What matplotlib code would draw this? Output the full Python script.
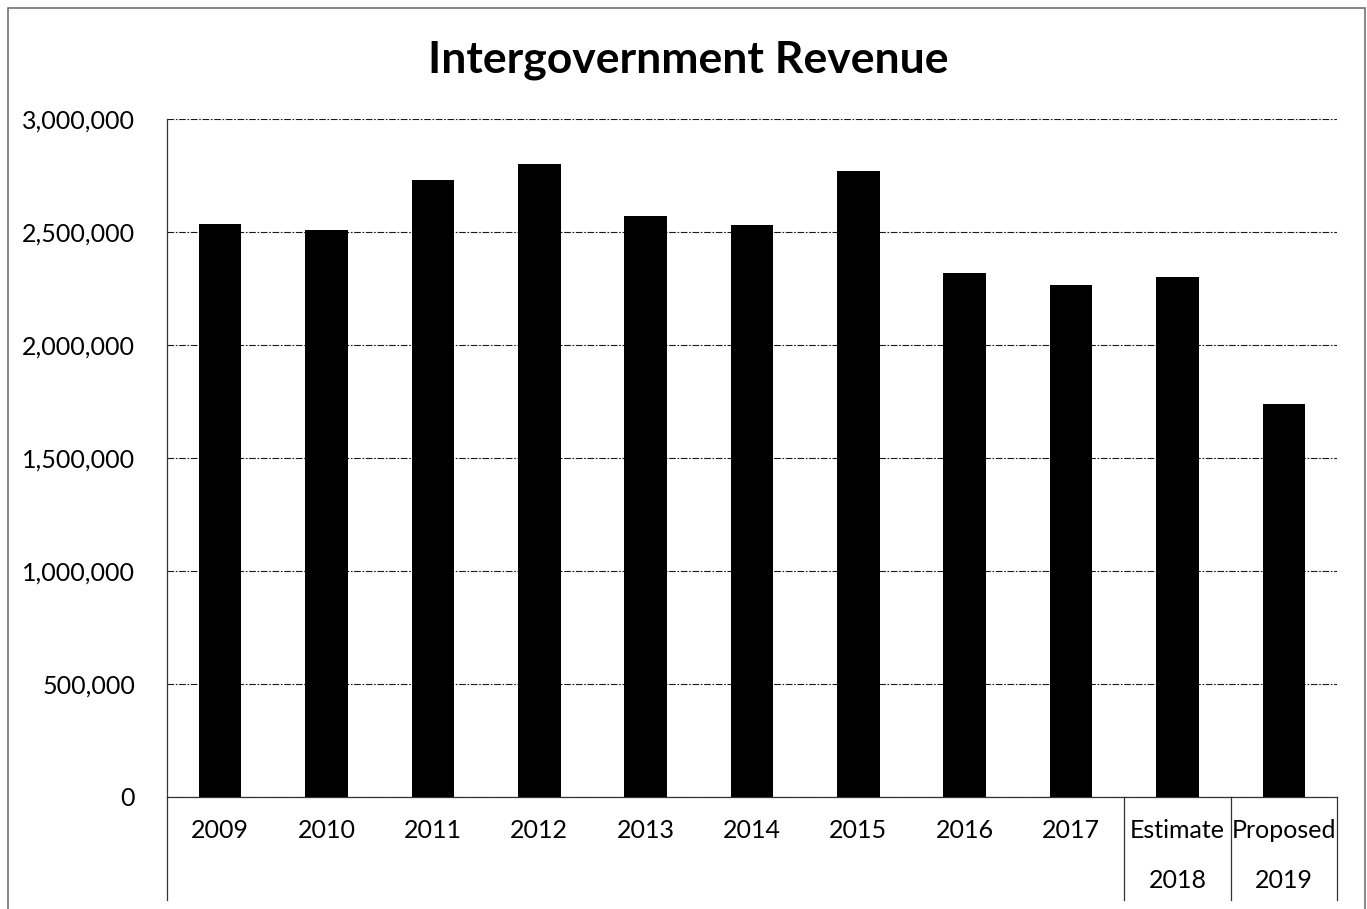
import matplotlib
matplotlib.use("Agg")
import matplotlib.pyplot as plt
from matplotlib.ticker import FuncFormatter, MultipleLocator
from matplotlib.transforms import blended_transform_factory
from matplotlib.patches import Rectangle

plt.rcParams['font.family'] = ['Lato', 'DejaVu Sans']

# Revenue by year
years = ["2009", "2010", "2011", "2012", "2013", "2014", "2015",
         "2016", "2017", "2018", "2019"]
revenue = [2535000, 2509000, 2730000, 2800000, 2571000, 2532000,
           2770000, 2317000, 2264000, 2302000, 1738000]
# Two-level category axis: upper row and lower row
upper_labels = ["2009", "2010", "2011", "2012", "2013", "2014", "2015",
                "2016", "2017", "Estimate", "Proposed"]
lower_labels = ["", "", "", "", "", "", "", "", "", "2018", "2019"]
group_breaks = [8.5, 9.5, 10.5]

title = "Intergovernment Revenue"

W, H = 1367, 909
fig = plt.figure(figsize=(W / 100, H / 100), dpi=100)

# plot area in pixel bounds
left, right, top, bottom = 167, 1337, 119, 797
ax = fig.add_axes([left / W, 1 - bottom / H, (right - left) / W, (bottom - top) / H])

x = list(range(len(years)))
ax.bar(x, revenue, width=0.4, color="black", zorder=3)

ax.set_xlim(-0.5, len(years) - 0.5)
ax.set_ylim(0, 3000000)
ax.yaxis.set_major_locator(MultipleLocator(500000))
ax.yaxis.set_major_formatter(FuncFormatter(lambda v, p: f"{int(v):,}"))
ax.tick_params(axis="y", length=0, pad=23, labelsize=18)
ax.set_xticks([])

ax.grid(axis="y", color="#1a1a1a", linestyle=(0, (6, 1.5, 1.5, 1.5)),
        linewidth=0.8, zorder=0)
for s in ("top", "right"):
    ax.spines[s].set_visible(False)
ax.spines["left"].set_color("#333333")
ax.spines["left"].set_linewidth(0.9)
ax.spines["bottom"].set_color("#333333")
ax.spines["bottom"].set_linewidth(0.9)

# category axis extends below the plot area
trans = blended_transform_factory(ax.transData, ax.transAxes)
ext = -(900 - bottom) / (bottom - top)
ax.plot([-0.5, -0.5], [0, ext], transform=trans, color="#333333",
        linewidth=0.9, clip_on=False)
for b in group_breaks:
    ax.plot([b, b], [0, ext], transform=trans, color="#333333",
            linewidth=0.9, clip_on=False)

row1 = -(831 - bottom) / (bottom - top)
row2 = -(881 - bottom) / (bottom - top)
for xi, u, l in zip(x, upper_labels, lower_labels):
    ax.text(xi, row1, u, transform=trans, ha="center", va="center", fontsize=18)
    if l:
        ax.text(xi, row2, l, transform=trans, ha="center", va="center", fontsize=18)

fig.text(688 / W, 1 - 60 / H, title, ha="center", va="center",
         fontsize=32, fontweight="bold")

# chart border
fig.patches.append(Rectangle((8 / W, -0.05), (1365 - 8) / W, 1.05 - 8 / H,
                             transform=fig.transFigure, fill=False,
                             edgecolor="#666666", linewidth=1.1))

fig.savefig("out.png", dpi=100)
